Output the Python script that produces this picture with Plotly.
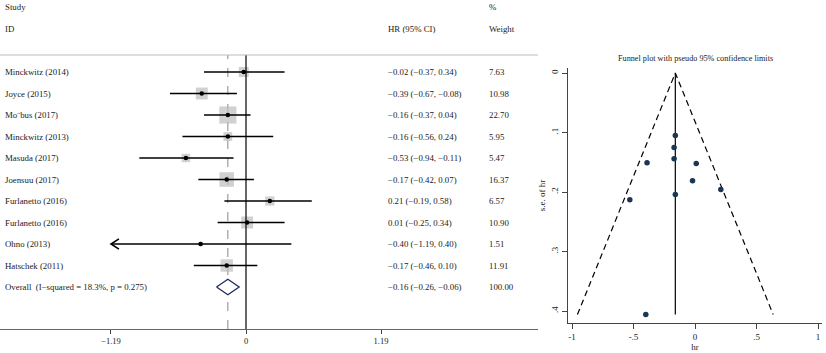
import plotly.graph_objects as go
import numpy as np

# ---------------- data ----------------
studies = ["Minckwitz (2014)", "Joyce (2015)", "Mo¨bus (2017)", "Minckwitz (2013)",
           "Masuda (2017)", "Joensuu (2017)", "Furlanetto (2016)", "Furlanetto (2016)",
           "Ohno (2013)", "Hatschek (2011)"]
hr = [-0.02, -0.39, -0.16, -0.16, -0.53, -0.17, 0.21, 0.01, -0.40, -0.17]
ci_low = [-0.37, -0.67, -0.37, -0.56, -0.94, -0.42, -0.19, -0.25, -1.19, -0.46]
ci_high = [0.34, -0.08, 0.04, 0.24, -0.11, 0.07, 0.58, 0.34, 0.40, 0.10]
weights = [7.63, 10.98, 22.70, 5.95, 5.47, 16.37, 6.57, 10.90, 1.51, 11.91]
overall_label = "Overall  (I−squared = 18.3%, p = 0.275)"
overall_hr, overall_low, overall_high, overall_weight = -0.16, -0.26, -0.06, 100.00
forest_ticks = [-1.19, 0, 1.19]
forest_ticktext = ["−1.19", "0", "1.19"]

# funnel plot
funnel_hr = [-0.02, -0.39, -0.16, -0.16, -0.53, -0.17, 0.21, 0.01, -0.40, -0.17]
funnel_se = [0.181, 0.151, 0.105, 0.204, 0.213, 0.125, 0.196, 0.152, 0.406, 0.144]
funnel_xticks = [-1, -0.5, 0, 0.5, 1]
funnel_xticktext = ["-1", "-.5", "0", ".5", "1"]
funnel_yticks = [0, 0.1, 0.2, 0.3, 0.4]
funnel_yticktext = ["0", ".1", ".2", ".3", ".4"]

FONT = "Liberation Serif"
TXT = "#222222"
W, H = 826, 353
FS = 8.8

def fmt(v):
    return f"{v:.2f}".replace("-", "−")

rows = list(range(len(studies)))
overall_row = len(studies)

fig = go.Figure()

# boxes
fig.add_trace(go.Scatter(
    x=hr, y=rows, mode="markers", xaxis="x", yaxis="y",
    marker=dict(symbol="square", size=[3.6 * np.sqrt(w) for w in weights],
                color="#bdbdbd", line=dict(width=0)),
    hoverinfo="skip", showlegend=False))

# CI lines
lx, ly = [], []
for lo, hi, r in zip(ci_low, ci_high, rows):
    lx += [lo, hi, None]
    ly += [r, r, None]
fig.add_trace(go.Scatter(x=lx, y=ly, mode="lines", xaxis="x", yaxis="y",
                         line=dict(color="black", width=1.6),
                         hoverinfo="skip", showlegend=False))

# arrow for CI truncated at the axis limit
ax_min = forest_ticks[0]
for lo, r in zip(ci_low, rows):
    if lo <= ax_min:
        fig.add_trace(go.Scatter(
            x=[lo + 0.07, lo, lo + 0.07], y=[r - 0.24, r, r + 0.24],
            mode="lines", xaxis="x", yaxis="y",
            line=dict(color="black", width=1.6),
            hoverinfo="skip", showlegend=False))

# point estimates
fig.add_trace(go.Scatter(x=hr, y=rows, mode="markers", xaxis="x", yaxis="y",
                         marker=dict(symbol="circle", size=4.5, color="black"),
                         hoverinfo="skip", showlegend=False))

# overall diamond
fig.add_trace(go.Scatter(
    x=[overall_low, overall_hr, overall_high, overall_hr, overall_low],
    y=[overall_row, overall_row - 0.36, overall_row, overall_row + 0.36, overall_row],
    mode="lines", fill="toself", fillcolor="white", xaxis="x", yaxis="y",
    line=dict(color="#1f2a66", width=1.3), hoverinfo="skip", showlegend=False))

# ---------------- funnel ----------------
se_max = max(funnel_se)
fig.add_trace(go.Scatter(
    x=[overall_hr - 1.96 * se_max, overall_hr, overall_hr + 1.96 * se_max],
    y=[se_max, 0, se_max], mode="lines", xaxis="x2", yaxis="y2",
    line=dict(color="black", width=1.2, dash="6px,4px"),
    hoverinfo="skip", showlegend=False))
fig.add_trace(go.Scatter(
    x=[overall_hr, overall_hr], y=[0, se_max], mode="lines", xaxis="x2", yaxis="y2",
    line=dict(color="black", width=1.2), hoverinfo="skip", showlegend=False))
fig.add_trace(go.Scatter(
    x=funnel_hr, y=funnel_se, mode="markers", xaxis="x2", yaxis="y2",
    marker=dict(color="#1b3553", size=5.5), hoverinfo="skip", showlegend=False))

# ---------------- layout ----------------
row_px = 21.5
top_px, axis_px, first_row_px = 55, 329, 72
last_row_px = first_row_px + row_px * overall_row
y_top = -(first_row_px - top_px) / row_px
y_bot = overall_row + (axis_px - last_row_px) / row_px

forest_right_px = 538
px_per_unit = 113.45
zero_px = 246
x_left = -zero_px / px_per_unit
x_right = (forest_right_px - zero_px) / px_per_unit

fx0, fx1 = 568, 822
fy0, fy1 = 68, 323
f_ppu = 123.0
f_zero = 695
f_y0px, f_ypp = 73, 595.0

fig.update_layout(
    width=W, height=H, margin=dict(l=0, r=0, t=0, b=0, autoexpand=False),
    paper_bgcolor="white", plot_bgcolor="white",
    font=dict(family=FONT, color=TXT, size=FS),
    xaxis=dict(domain=[0, forest_right_px / W], range=[x_left, x_right],
               showgrid=False, zeroline=False, showline=True, linecolor="#666666",
               linewidth=1, ticks="outside", ticklen=4, tickcolor="#444444",
               tickvals=forest_ticks, ticktext=forest_ticktext,
               tickfont=dict(size=8.5, family=FONT, color=TXT), anchor="y"),
    yaxis=dict(domain=[(H - axis_px) / H, (H - top_px) / H], range=[y_bot, y_top],
               showgrid=False, zeroline=False, showline=False, showticklabels=False,
               anchor="x"),
    xaxis2=dict(domain=[fx0 / W, fx1 / W],
                range=[(fx0 - f_zero) / f_ppu, (fx1 - f_zero) / f_ppu],
                showgrid=False, zeroline=False, showline=True, linecolor="#444444",
                ticks="outside", ticklen=5, tickcolor="#444444",
                tickvals=funnel_xticks, ticktext=funnel_xticktext,
                tickfont=dict(size=9, family=FONT, color=TXT),
                title=dict(text="hr", font=dict(size=9, family=FONT, color=TXT), standoff=2),
                anchor="y2"),
    yaxis2=dict(domain=[(H - fy1) / H, (H - fy0) / H],
                range=[(fy1 - f_y0px) / f_ypp, (fy0 - f_y0px) / f_ypp],
                showgrid=False, zeroline=False, showline=True, linecolor="#444444",
                ticks="outside", ticklen=5, tickcolor="#444444",
                tickvals=funnel_yticks, ticktext=funnel_yticktext, tickangle=-90,
                tickfont=dict(size=9, family=FONT, color=TXT),
                title=dict(text="s.e. of hr", font=dict(size=9, family=FONT, color=TXT), standoff=3),
                anchor="x2"),
)

shapes = [
    dict(type="line", xref="x", yref="y domain", x0=0, x1=0, y0=0, y1=1,
         line=dict(color="black", width=1.2)),
    dict(type="line", xref="x", yref="y domain", x0=overall_hr, x1=overall_hr, y0=0, y1=1,
         line=dict(color="#888888", width=1, dash="dash"), layer="below"),
    dict(type="line", xref="paper", yref="paper", x0=0, x1=forest_right_px / W,
         y0=(H - top_px) / H, y1=(H - top_px) / H, line=dict(color="#bbbbbb", width=1)),
]
fig.update_layout(shapes=shapes)

ann = []
text_x = 3 / W
hr_x = 386 / W
wt_x = 487 / W
for name, r, h, lo, hi, w in zip(studies, rows, hr, ci_low, ci_high, weights):
    ann.append(dict(text=name, x=text_x, y=r, xref="paper", yref="y",
                    xanchor="left", yanchor="middle", showarrow=False))
    ann.append(dict(text=f"{fmt(h)} ({fmt(lo)}, {fmt(hi)})", x=hr_x, y=r, xref="paper",
                    yref="y", xanchor="left", yanchor="middle", showarrow=False))
    ann.append(dict(text=f"{w:.2f}", x=wt_x, y=r, xref="paper", yref="y",
                    xanchor="left", yanchor="middle", showarrow=False))
ann.append(dict(text=overall_label, x=text_x, y=overall_row, xref="paper", yref="y",
                xanchor="left", yanchor="middle", showarrow=False))
ann.append(dict(text=f"{fmt(overall_hr)} ({fmt(overall_low)}, {fmt(overall_high)})",
                x=hr_x, y=overall_row, xref="paper", yref="y",
                xanchor="left", yanchor="middle", showarrow=False))
ann.append(dict(text=f"{overall_weight:.2f}", x=wt_x, y=overall_row, xref="paper",
                yref="y", xanchor="left", yanchor="middle", showarrow=False))
# headers
for txt, xx, yy in [("Study", text_x, 7), ("ID", text_x, 29), ("HR (95% CI)", hr_x, 29),
                    ("%", wt_x, 7), ("Weight", wt_x, 29)]:
    ann.append(dict(text=txt, x=xx, y=(H - yy) / H, xref="paper", yref="paper",
                    xanchor="left", yanchor="middle", showarrow=False))
ann.append(dict(text="Funnel plot with pseudo 95% confidence limits", x=695 / W,
                y=(H - 58) / H, xref="paper", yref="paper", xanchor="center",
                yanchor="middle", showarrow=False, font=dict(size=8.2, family=FONT, color=TXT)))
fig.update_layout(annotations=ann)

fig.write_html("out.html", config={"displayModeBar": False},
               post_script="document.body.style.margin='0';document.body.style.overflow='hidden';")
